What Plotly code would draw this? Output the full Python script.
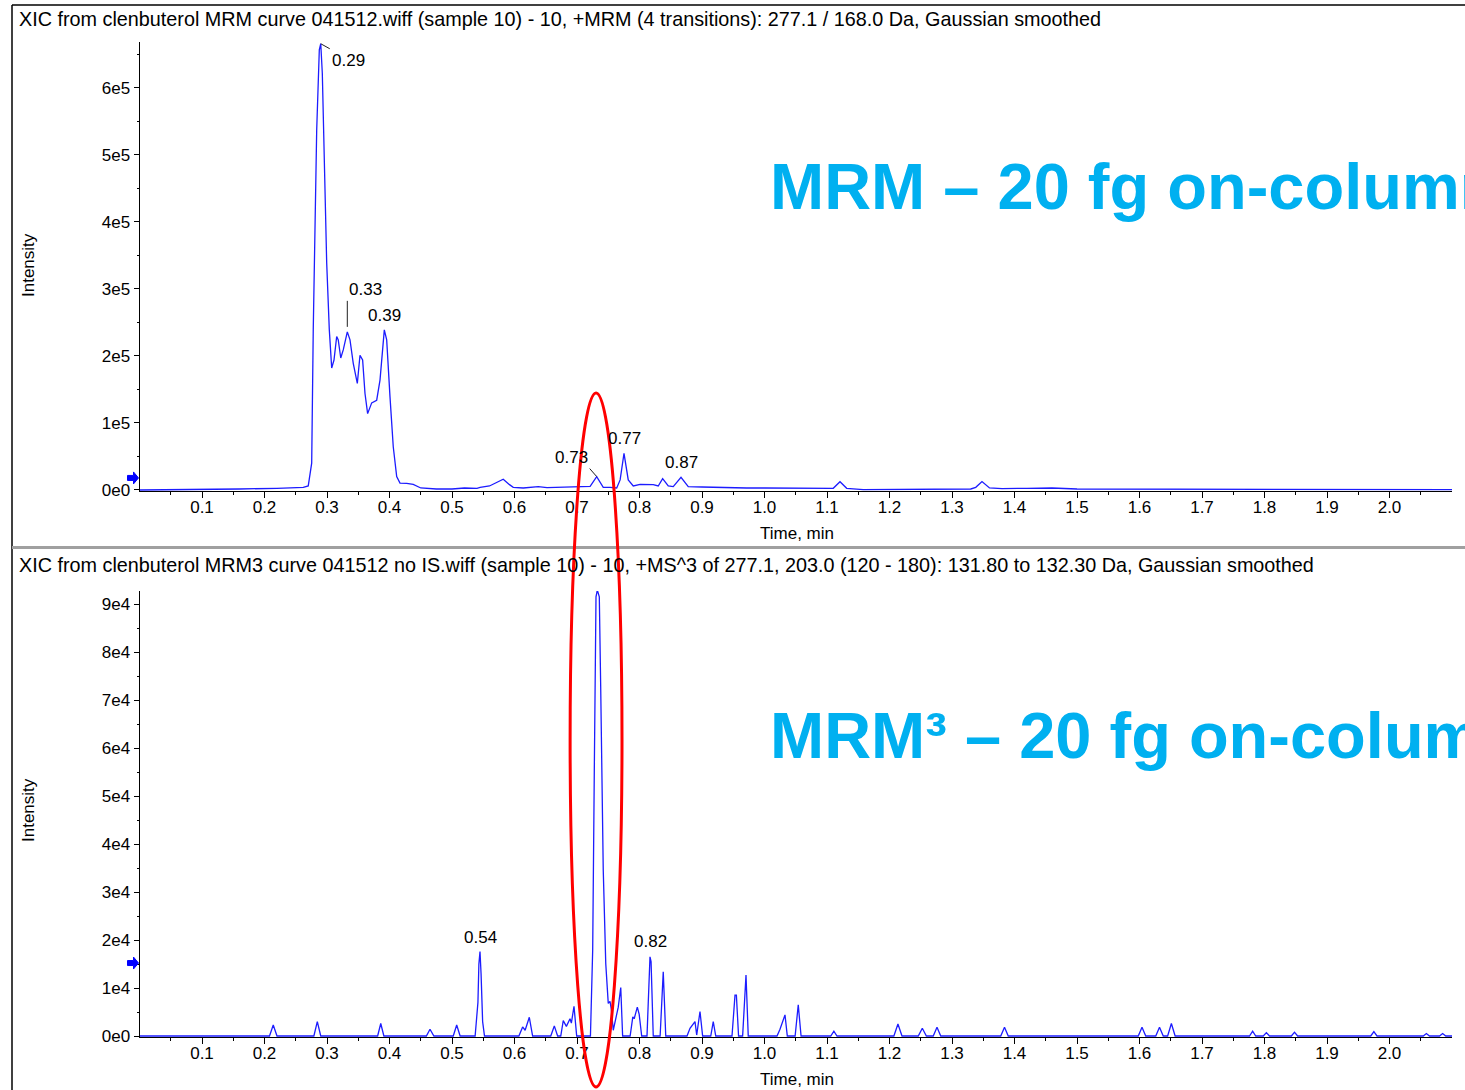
import plotly.graph_objects as go

W, H = 1465, 1090
# the photographed page comes out ~0.8% shorter than requested; place items on that scale
HE = 1081.0

# ---------------- data ----------------
top_time = [0.000, 0.060, 0.118, 0.160, 0.220, 0.250, 0.262, 0.270, 0.2755, 0.278,
            0.2808, 0.2835, 0.2877, 0.2900, 0.2925, 0.2957, 0.2995, 0.3037, 0.3075, 0.3112,
            0.3155, 0.3180, 0.3220, 0.3260, 0.3325, 0.3368, 0.3420, 0.3485, 0.3528, 0.3570,
            0.3608, 0.3650, 0.3715, 0.3795, 0.3848, 0.3917, 0.3955, 0.4008, 0.4060, 0.4115,
            0.4168, 0.4275, 0.4380, 0.4500, 0.4750, 0.5000, 0.5200, 0.5400, 0.5450, 0.5600,
            0.5700, 0.5820, 0.5920, 0.5980, 0.6140, 0.6300, 0.6380, 0.6520, 0.6700, 0.6890,
            0.7050, 0.7210, 0.7315, 0.7420, 0.7530, 0.7635, 0.7690, 0.7752, 0.7820, 0.7900,
            0.8010, 0.8220, 0.8300, 0.8370, 0.8460, 0.8540, 0.8664, 0.8780, 0.9000, 0.9180,
            0.9400, 0.9715, 1.0000, 1.0400, 1.0780, 1.1100, 1.1208, 1.1315, 1.1580, 1.2000,
            1.2600, 1.3300, 1.3380, 1.3480, 1.3600, 1.3800, 1.4200, 1.4600, 1.5000, 1.5700,
            1.6000, 1.6500, 1.7500, 1.8000, 1.8500, 1.9000, 1.9500, 2.1000]
top_intensity = [0, 200, 1000, 1500, 2500, 3000, 4000, 6000, 40000, 239000,
                 388000, 537000, 657000, 666000, 622000, 488000, 339000, 239000, 182000, 194000,
                 229000, 224000, 197000, 209000, 236000, 224000, 189000, 159000, 201000, 194000,
                 144000, 114000, 130000, 134000, 164000, 239000, 224000, 139000, 64600, 19900,
                 10400, 10000, 8500, 3000, 1500, 1500, 3000, 2500, 4000, 6000,
                 11000, 16000, 8000, 4000, 3000, 4000, 5000, 3500, 4000, 4000,
                 5000, 5500, 20000, 4000, 4000, 3000, 15000, 54700, 15000, 6000,
                 8500, 8000, 6000, 17000, 6000, 5000, 19000, 5000, 4500, 4000,
                 3500, 3000, 3000, 2500, 2000, 2500, 12400, 2500, 500, 1000,
                 1500, 1500, 4000, 12500, 3000, 2000, 2500, 3000, 1500, 1500,
                 1500, 500, 500, 1200, 500, 1000, 500, 500]

bottom_time = [0.000, 0.208, 0.214, 0.220, 0.279, 0.2845, 0.290, 0.381, 0.386, 0.391,
               0.459, 0.4648, 0.471, 0.502, 0.5075, 0.513, 0.537, 0.5415, 0.5430, 0.5448,
               0.5465, 0.5490, 0.552, 0.607, 0.613, 0.617, 0.6237, 0.629, 0.658, 0.6637,
               0.669, 0.674, 0.678, 0.683, 0.6888, 0.691, 0.6952, 0.6995, 0.7215, 0.7251,
               0.7277, 0.7304, 0.7325, 0.7357, 0.7379, 0.7395, 0.7420, 0.7460, 0.7500, 0.7528,
               0.7550, 0.7580, 0.7635, 0.7660, 0.7700, 0.7730, 0.7850, 0.7893, 0.7915, 0.7965,
               0.7995, 0.8035, 0.8120, 0.8168, 0.8185, 0.8220, 0.8330, 0.8380, 0.8420, 0.8760,
               0.8808, 0.8888, 0.8915, 0.8968, 0.9010, 0.9140, 0.9180, 0.9220, 0.9480, 0.9528,
               0.9550, 0.9585, 0.9650, 0.9688, 0.9704, 0.9740, 1.0200, 1.0248, 1.0328, 1.0365,
               1.0490, 1.0540, 1.0585, 1.1060, 1.1110, 1.1160, 1.2070, 1.2135, 1.2200, 1.2460,
               1.2525, 1.2590, 1.2700, 1.2760, 1.2820, 1.3780, 1.3840, 1.3900, 1.5980, 1.6040,
               1.6100, 1.6260, 1.6320, 1.6380, 1.6450, 1.6510, 1.6570, 1.7760, 1.7810, 1.7860,
               1.7980, 1.8030, 1.8080, 1.8430, 1.8480, 1.8530, 1.9700, 1.9750, 1.9800, 2.0540,
               2.0590, 2.0640, 2.0800, 2.0850, 2.0900, 2.1000]
bottom_intensity = [0, 0, 2300, 0, 0, 3000, 0, 0, 2600, 0,
                    0, 1400, 0, 0, 2300, 0, 0, 7000, 15000, 17600,
                    13000, 3000, 0, 0, 1900, 1200, 3900, 0, 0, 2100,
                    0, 0, 3200, 2000, 3600, 2700, 6200, 0, 0, 17900,
                    55400, 91500, 92900, 91500, 72800, 52600, 34600, 15100, 6800, 7200,
                    5500, 1200, 4700, 6000, 10100, 0, 0, 4000, 3600, 6000,
                    4500, 0, 0, 16500, 15500, 0, 0, 13400, 0, 0,
                    1600, 3000, 200, 5100, 0, 0, 3000, 0, 0, 8500,
                    8500, 0, 0, 9900, 12700, 0, 0, 1400, 4400, 0,
                    0, 6500, 0, 0, 1000, 0, 0, 2500, 0, 0,
                    1600, 0, 0, 1800, 0, 0, 1800, 0, 0, 1800,
                    0, 0, 1800, 0, 0, 2600, 0, 0, 1000, 0,
                    0, 700, 0, 0, 800, 0, 0, 900, 0, 0,
                    500, 0, 0, 500, 0, 0]

x_tick_values = [0.1, 0.2, 0.3, 0.4, 0.5, 0.6, 0.7, 0.8, 0.9, 1.0,
                 1.1, 1.2, 1.3, 1.4, 1.5, 1.6, 1.7, 1.8, 1.9, 2.0]
x_tick_labels = ["0.1", "0.2", "0.3", "0.4", "0.5", "0.6", "0.7", "0.8", "0.9", "1.0",
                 "1.1", "1.2", "1.3", "1.4", "1.5", "1.6", "1.7", "1.8", "1.9", "2.0"]
top_y_ticks = [0, 100000, 200000, 300000, 400000, 500000, 600000]
top_y_labels = ["0e0", "1e5", "2e5", "3e5", "4e5", "5e5", "6e5"]
bottom_y_ticks = [0, 10000, 20000, 30000, 40000, 50000, 60000, 70000, 80000, 90000]
bottom_y_labels = ["0e0", "1e4", "2e4", "3e4", "4e4", "5e4", "6e4", "7e4", "8e4", "9e4"]

top_title = ("XIC from clenbuterol MRM curve 041512.wiff (sample 10) - 10, +MRM (4 transitions): "
             "277.1 / 168.0 Da, Gaussian smoothed")
bottom_title = ("XIC from clenbuterol MRM3 curve 041512 no IS.wiff (sample 10) - 10, +MS^3 of 277.1, "
                "203.0 (120 - 180): 131.80 to 132.30 Da, Gaussian smoothed")
top_banner = "<b>MRM – 20 fg on-column</b>"
bottom_banner = "<b>MRM³ – 20 fg on-column</b>"

top_threshold = 18000
bottom_threshold = 15200

# ---------------- helpers (pixel -> paper) ----------------
def pxx(p):
    return p / W

def pxy(p):
    return 1 - p / HE

FONT = "Liberation Sans, Arial, sans-serif"
TRACE = "#1c1cff"

fig = go.Figure()
fig.add_trace(go.Scatter(x=top_time, y=top_intensity, mode="lines",
                         line=dict(color=TRACE, width=1.3), xaxis="x", yaxis="y",
                         hoverinfo="skip"))
fig.add_trace(go.Scatter(x=bottom_time, y=bottom_intensity, mode="lines",
                         line=dict(color=TRACE, width=1.3), xaxis="x2", yaxis="y2",
                         hoverinfo="skip"))

X_AXIS_LEFT = 139.5
xdom = [pxx(X_AXIS_LEFT), pxx(1452)]
tickfont = dict(family=FONT, size=17, color="black")

def xaxis_cfg(anchor):
    return dict(domain=xdom, range=[0, 2.1], anchor=anchor, showline=True,
                linecolor="black", linewidth=1, ticks="outside", ticklen=6,
                tickcolor="black", tickwidth=1, tickmode="array",
                tickvals=x_tick_values, ticktext=x_tick_labels, tickfont=tickfont,
                ticklabelstandoff=-5,
                showgrid=False, zeroline=False,
                minor=dict(ticks="outside", ticklen=3, tick0=0.05, dtick=0.1,
                           tickcolor="black", showgrid=False))

def yaxis_cfg(anchor, dom, rng, tv, tt, minor_dt):
    return dict(domain=dom, range=rng, anchor=anchor, showline=True,
                linecolor="black", linewidth=1, ticks="outside", ticklen=5,
                tickcolor="black", tickwidth=1, tickmode="array", tickvals=tv,
                ticktext=tt, tickfont=tickfont, showgrid=False, zeroline=False,
                minor=dict(ticks="outside", ticklen=2, tick0=minor_dt, dtick=2 * minor_dt,
                           tickcolor="black", showgrid=False))

fig.update_layout(
    width=W, height=H, margin=dict(l=0, r=0, t=0, b=0),
    paper_bgcolor="white", plot_bgcolor="white", showlegend=False,
    xaxis=xaxis_cfg("y"),
    xaxis2=xaxis_cfg("y2"),
    yaxis=yaxis_cfg("x", [pxy(491), pxy(42.4)], [-1500, 668000],
                    top_y_ticks, top_y_labels, 50000),
    yaxis2=yaxis_cfg("x2", [pxy(1036.96), pxy(591.04)], [-200, 92700],
                     bottom_y_ticks, bottom_y_labels, 5000),
)

# small block arrow glyph (pixel offsets from the axis point it marks)
arrow_path = "M -12 -2.5 L -6 -2.5 L -6 -6 L -1 0 L -6 6 L -6 2.5 L -12 2.5 Z"

shapes = [
    dict(type="line", xref="paper", yref="paper", x0=pxx(12), x1=1, y0=pxy(5), y1=pxy(5),
         line=dict(color="black", width=1.5)),
    dict(type="line", xref="paper", yref="paper", x0=pxx(12), x1=pxx(12), y0=pxy(5), y1=-0.02,
         line=dict(color="black", width=1.5)),
    dict(type="line", xref="paper", yref="paper", x0=pxx(12), x1=1, y0=pxy(547.5), y1=pxy(547.5),
         line=dict(color="#a0a0a0", width=3)),
    dict(type="circle", xref="x2", yref="paper", x0=0.689, x1=0.772, y0=pxy(1087), y1=pxy(393),
         line=dict(color="#ff0000", width=3)),
    dict(type="path", xref="paper", yref="y", xsizemode="pixel", ysizemode="pixel",
         xanchor=pxx(X_AXIS_LEFT), yanchor=top_threshold, path=arrow_path,
         fillcolor="#0000ff", line=dict(color="#0000ff", width=1)),
    dict(type="path", xref="paper", yref="y2", xsizemode="pixel", ysizemode="pixel",
         xanchor=pxx(X_AXIS_LEFT), yanchor=bottom_threshold, path=arrow_path,
         fillcolor="#0000ff", line=dict(color="#0000ff", width=1)),
]
fig.update_layout(shapes=shapes)

lab = dict(family=FONT, size=17, color="black")
title_font = dict(family=FONT, size=19.8, color="black")
ann = []
# panel titles
ann.append(dict(text=top_title, xref="paper", yref="paper", x=pxx(17), y=pxy(19),
                xanchor="left", yanchor="middle", showarrow=False, font=title_font))
ann.append(dict(text=bottom_title, xref="paper", yref="paper", x=pxx(17), y=pxy(565),
                xanchor="left", yanchor="middle", showarrow=False, font=title_font))
# axis titles
for yc in (265, 810):
    ann.append(dict(text="Intensity", xref="paper", yref="paper", x=pxx(28), y=pxy(yc),
                    xanchor="center", yanchor="middle", textangle=-90, showarrow=False, font=lab))
for yc in (533, 1079):
    ann.append(dict(text="Time, min", xref="paper", yref="paper", x=pxx(797), y=pxy(yc),
                    xanchor="center", yanchor="middle", showarrow=False, font=lab))
# banners
banner_font = dict(family=FONT, size=65, color="#00b0f0")
ann.append(dict(text=top_banner, xref="paper", yref="paper", x=pxx(768), y=pxy(187),
                xanchor="left", yanchor="middle", showarrow=False, font=banner_font))
ann.append(dict(text=bottom_banner, xref="paper", yref="paper", x=pxx(768), y=pxy(735),
                xanchor="left", yanchor="middle", showarrow=False, font=banner_font))

# peak labels
def plain(xr, yr, t, v, text, shift=3):
    return dict(text=text, xref=xr, yref=yr, x=t, y=v, xanchor="center", yanchor="bottom",
                yshift=shift, showarrow=False, font=lab)

def lead(xr, yr, t, v, text, ax, ay, xa, ya, standoff=0):
    return dict(text=text, xref=xr, yref=yr, x=t, y=v, ax=ax, ay=ay, xanchor=xa, yanchor=ya,
                showarrow=True, arrowhead=0, arrowwidth=1, arrowcolor="#202020",
                standoff=standoff, font=lab)

ann.append(lead("x", "y", 0.2900, 666000, "0.29", 9, 5, "left", "top"))
ann.append(lead("x", "y", 0.3325, 236000, "0.33", 0, -31, "left", "bottom", standoff=5))
ann.append(plain("x", "y", 0.3917, 239000, "0.39"))
ann.append(lead("x", "y", 0.7315, 20000, "0.73", -7, -8, "right", "bottom"))
ann.append(plain("x", "y", 0.7752, 54700, "0.77"))
ann.append(plain("x", "y", 0.8664, 19000, "0.87"))
ann.append(lead("x2", "y2", 0.7325, 92900, "0.73", 8, 6, "left", "top"))
ann.append(plain("x2", "y2", 0.5448, 17600, "0.54"))
ann.append(plain("x2", "y2", 0.8168, 16500, "0.82", shift=4))

fig.update_layout(annotations=ann)

fig.write_html("out.html")
